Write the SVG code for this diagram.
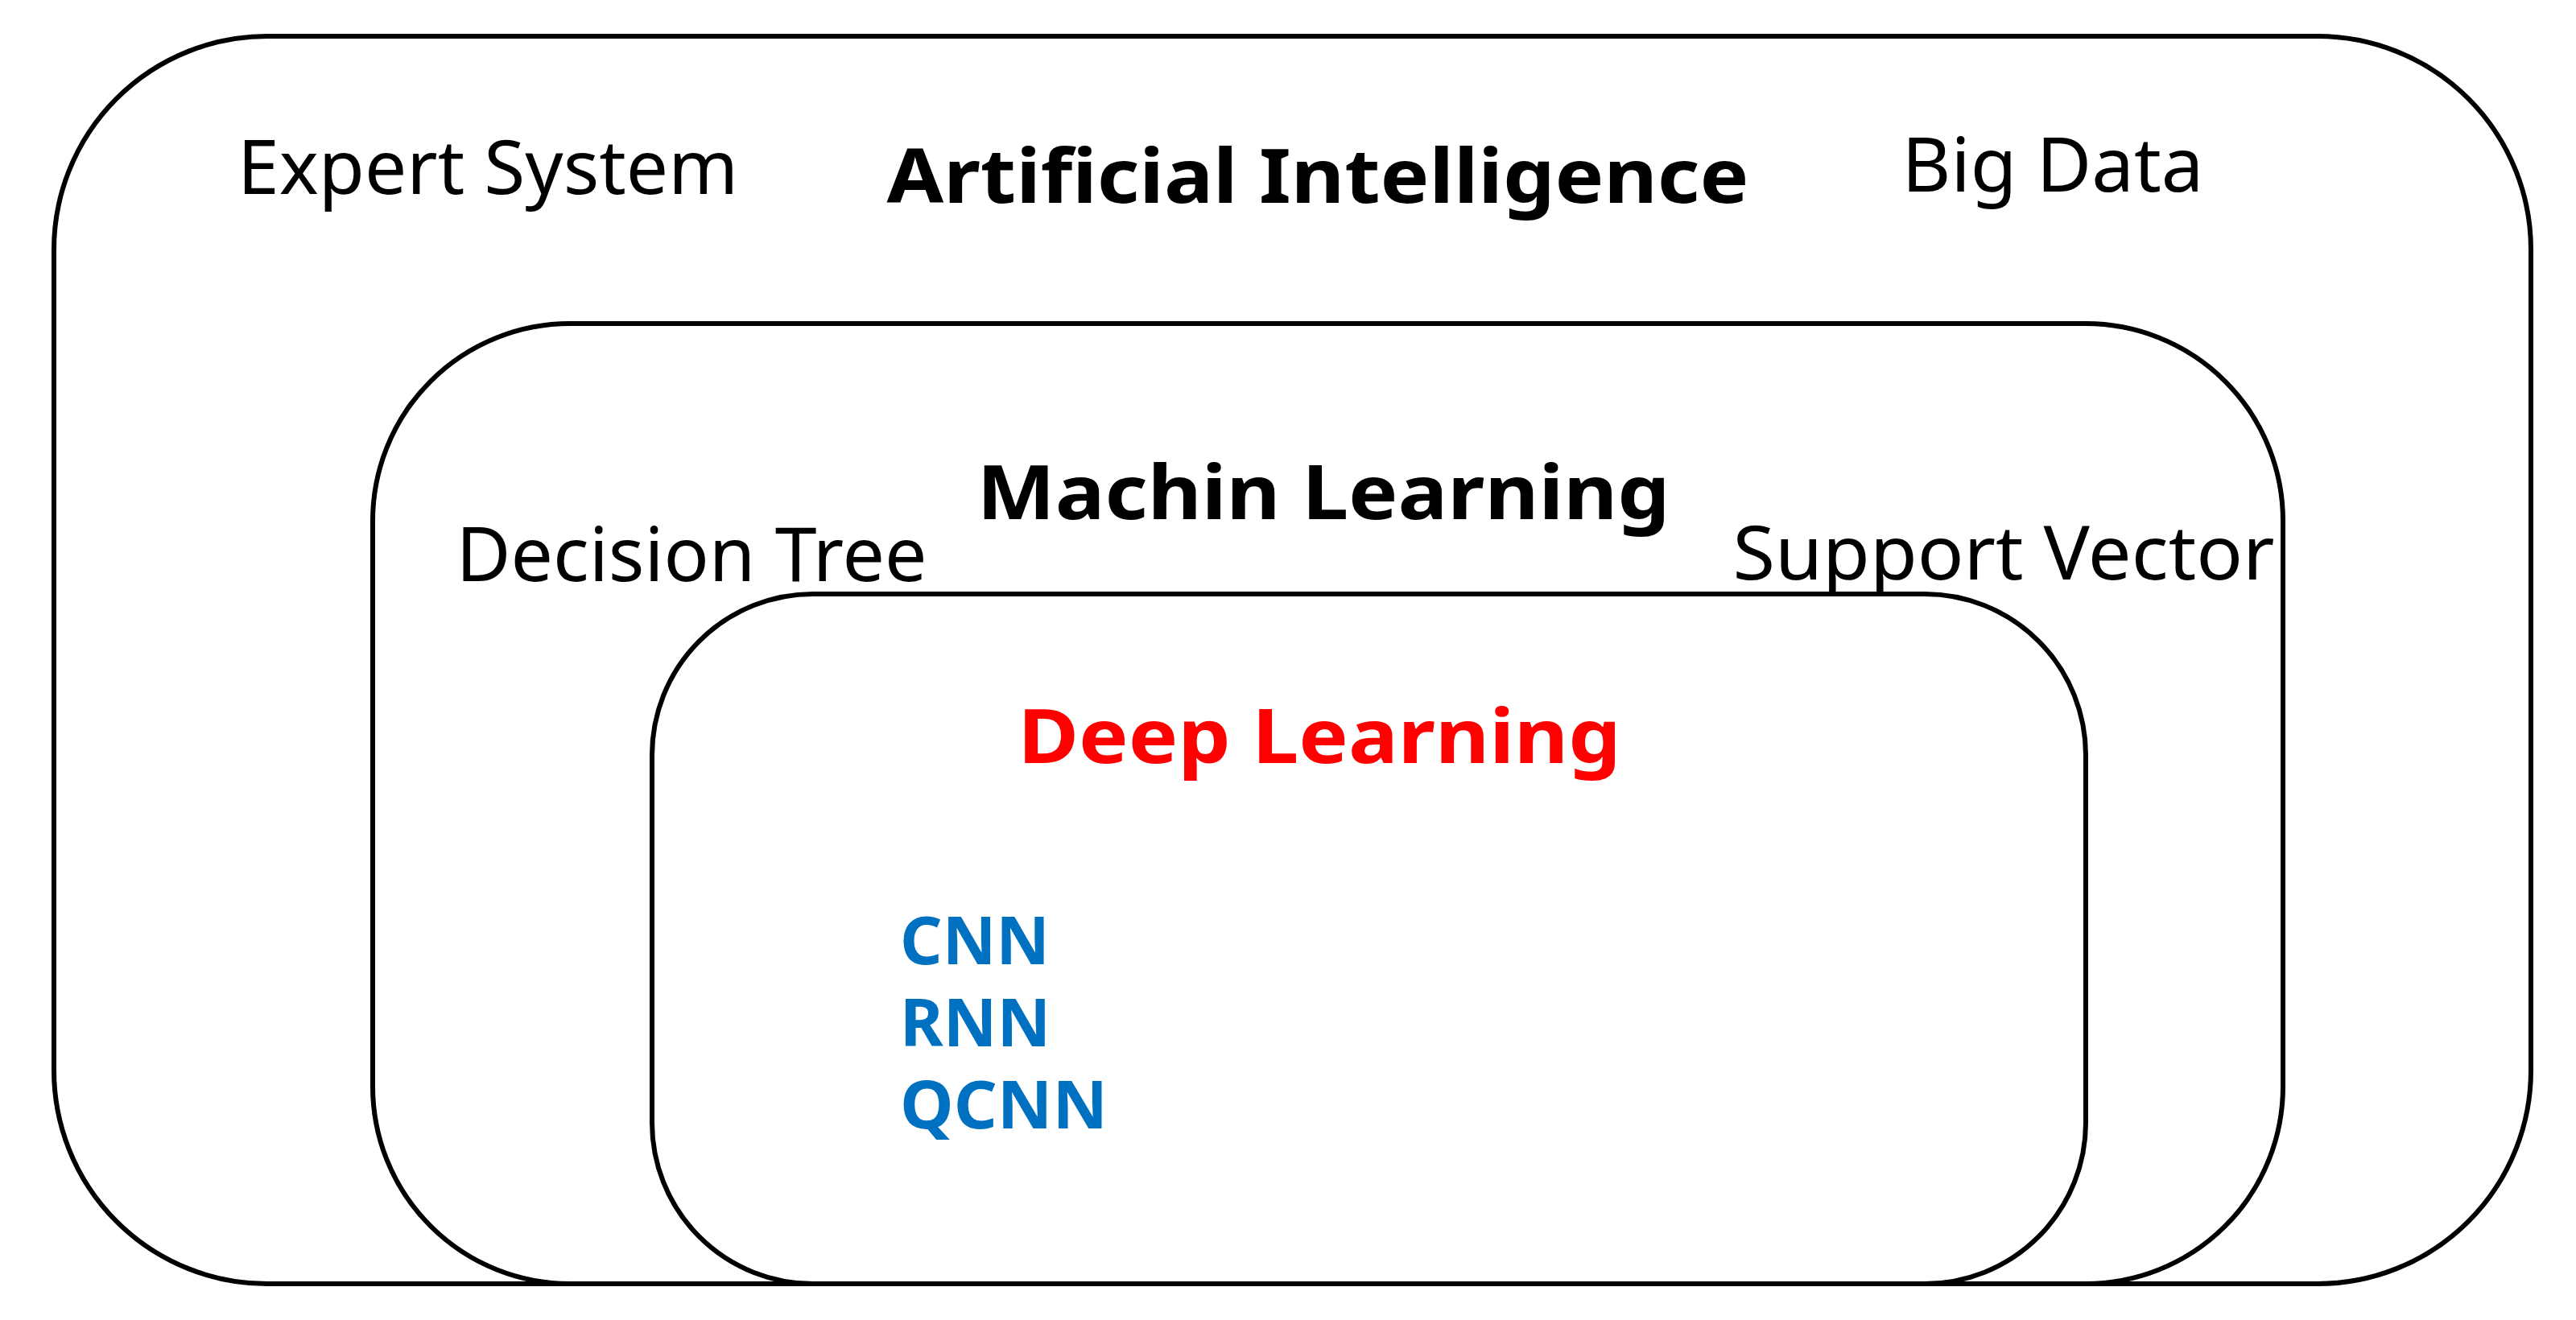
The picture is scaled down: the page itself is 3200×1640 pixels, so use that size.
<svg xmlns="http://www.w3.org/2000/svg" width="3200" height="1640" viewBox="0 0 3200 1640">
<style>
.box{fill:#fff;stroke:#000;stroke-width:6}
text{font-family:"Noto Sans","Liberation Sans",sans-serif;font-size:94px;fill:#000}
.b{font-weight:bold}
.m{text-anchor:middle}
.blue{fill:#0070C0;font-weight:bold;font-size:82px}
</style>
<rect x="0" y="0" width="3200" height="1640" fill="#fff"/>
<g id="ai"><rect class="box" x="67" y="45" width="3077" height="1550" rx="265"/>
<text class="m" x="606" y="241" textLength="622" lengthAdjust="spacingAndGlyphs">Expert System</text>
<text class="m b" x="1637" y="252" textLength="1071" lengthAdjust="spacingAndGlyphs">Artificial Intelligence</text>
<text class="m" x="2550" y="238" textLength="375" lengthAdjust="spacingAndGlyphs">Big Data</text></g>
<g id="ml"><rect class="box" x="463" y="402" width="2373" height="1193" rx="245"/>
<text class="m b" x="1644" y="645" textLength="861" lengthAdjust="spacingAndGlyphs">Machin Learning</text>
<text class="m" x="859" y="722" textLength="585" lengthAdjust="spacingAndGlyphs">Decision Tree</text>
<text class="m" x="2489" y="720" textLength="673" lengthAdjust="spacingAndGlyphs">Support Vector</text></g>
<g id="dl"><rect class="box" x="810" y="738" width="1781" height="857" rx="200"/>
<text class="m b" x="1639" y="948" style="fill:#FF0000" textLength="749" lengthAdjust="spacingAndGlyphs">Deep Learning</text>
<text class="blue" x="1118" y="1198">CNN</text>
<text class="blue" x="1118" y="1300">RNN</text>
<text class="blue" x="1118" y="1402" textLength="258" lengthAdjust="spacingAndGlyphs">QCNN</text></g>
<g id="connectors"/>
</svg>
